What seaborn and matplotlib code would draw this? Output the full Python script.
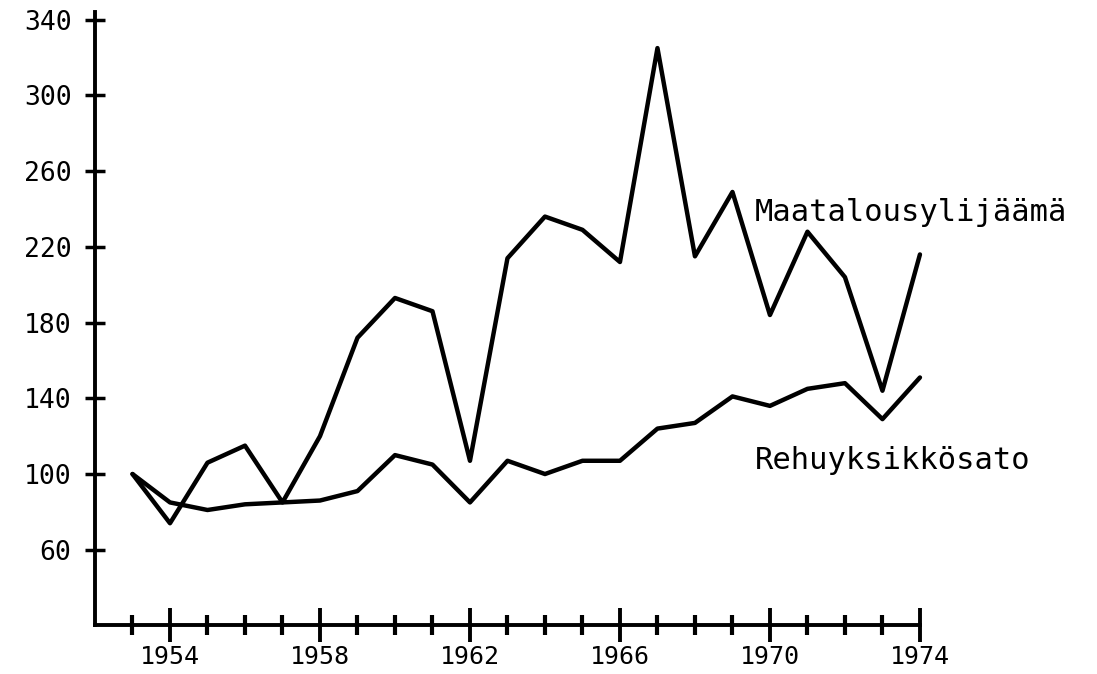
import numpy as np
import pandas as pd
import matplotlib.pyplot as plt
import seaborn as sns

# -------------------- data (index, 1953 = 100) --------------------
years = list(range(1953, 1975))
maatalous = [100, 74, 106, 115, 85, 120, 172, 193, 186, 107, 214,
             236, 229, 212, 325, 215, 249, 184, 228, 204, 144, 216]
rehu = [100, 85, 81, 84, 85, 86, 91, 110, 105, 85, 107,
        100, 107, 107, 124, 127, 141, 136, 145, 148, 129, 151]
series_names = ["Maatalousylijäämä", "Rehuyksikkösato"]
y_ticks = [60, 100, 140, 180, 220, 260, 300, 340]
x_labels = [1954, 1958, 1962, 1966, 1970, 1974]

df = pd.DataFrame({
    "year": years * 2,
    "value": maatalous + rehu,
    "series": [series_names[0]] * len(years) + [series_names[1]] * len(years),
})

sns.set_style("white")
plt.rcParams['font.family'] = ['DejaVu Sans Mono', 'DejaVu Sans']
plt.rcParams['text.color'] = 'black'

fig = plt.figure(figsize=(10.97, 6.74), dpi=100)
ax = fig.add_axes([0.0866, 0.072, 0.752, 0.91])

sns.lineplot(data=df, x="year", y="value", hue="series",
             palette=["black", "black"], linewidth=3.2, legend=False,
             ax=ax, clip_on=False)

ax.set_xlim(1952, 1974)
ax.set_ylim(20, 344)

# axes: only left and bottom, thick
sns.despine(ax=ax)
for side in ["left", "bottom"]:
    ax.spines[side].set_linewidth(2.8)
    ax.spines[side].set_color("black")

ax.set_yticks(y_ticks)
ax.set_yticklabels([str(v) for v in y_ticks])
ax.tick_params(axis="y", direction="inout", length=14, width=2.5, left=True,
               labelsize=19, pad=10, colors="black")

ax.set_xticks(x_labels)
ax.set_xticklabels([str(v) for v in x_labels])
ax.set_xticks([y for y in years if y not in x_labels], minor=True)
ax.tick_params(axis="x", which="major", direction="inout", length=24,
               width=2.8, labelsize=18, pad=2, colors="black", bottom=True)
ax.tick_params(axis="x", which="minor", direction="inout", length=14,
               width=3, colors="black", bottom=True)

ax.set_xlabel("")
ax.set_ylabel("")
ax.grid(False)

# series labels to the right of the lines
ax.text(1969.6, 238, series_names[0], fontsize=22, va="center", ha="left",
        color="black")
ax.text(1969.6, 107, series_names[1], fontsize=22, va="center", ha="left",
        color="black")

fig.savefig("out.png", dpi=100)
